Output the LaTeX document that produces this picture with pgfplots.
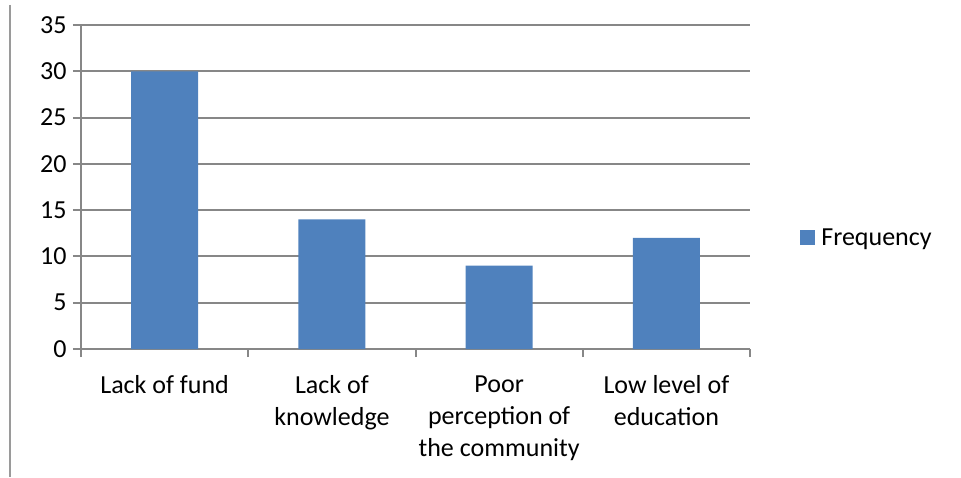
\documentclass[border=0pt]{standalone}
\usepackage{pgfplots}
\pgfplotsset{compat=1.18}
\usepackage{fontspec}
\setmainfont{Carlito}
\definecolor{barblue}{HTML}{4F81BD}
\definecolor{gridgray}{HTML}{878787}
\definecolor{bordergray}{HTML}{9A9A9A}
\begin{document}
\begin{tikzpicture}[x=1pt,y=1pt]
\path[use as bounding box] (-81,-128) rectangle (880,349);
\draw[bordergray, line width=2pt] (-71,344) -- (-71,-128);
\begin{axis}[
  at={(0pt,0pt)}, anchor=south west,
  scale only axis, width=669pt, height=324pt,
  xmin=-0.5, xmax=3.5, ymin=0, ymax=35,
  ytick={0,5,...,35},
  xtick={0,1,2,3},
  xticklabels={Lack of fund, Lack of\\knowledge, Poor\\perception of\\the community, Low level of\\education},
  minor xtick={-0.5,0.5,1.5,2.5,3.5},
  major x tick style={draw=none},
  tick align=outside, tick pos=left,
  major tick length=8pt, minor tick length=8pt,
  every tick/.style={gridgray, line width=2pt},
  ymajorgrids,
  grid style={gridgray, line width=2pt},
  axis x line*=bottom, axis y line*=left,
  axis line style={gridgray, line width=2pt},
  x axis line style={-}, y axis line style={-},
  ybar, bar width=67pt,
  font=\fontsize{26}{32}\selectfont,
  /pgf/number format/assume math mode=true,
  yticklabel style={font=\fontsize{26}{32}\selectfont, xshift=-3pt},
  xticklabel style={align=center, font=\fontsize{26}{32}\selectfont, yshift=-15pt},
  legend style={at={(1.075,0.343)}, anchor=west, draw=none, fill=none, font=\fontsize{26}{32}\selectfont,
    inner sep=0pt, row sep=0pt},
  legend cell align=left,
  legend image code/.code={\fill[barblue] (0pt,-7.5pt) rectangle (15pt,7.5pt); \path (19pt,0pt);},
]
\addplot[fill=barblue, draw=none] coordinates {(0,30) (1,14) (2,9) (3,12)};
\addlegendentry{Frequency}
\end{axis}
\end{tikzpicture}
\end{document}
